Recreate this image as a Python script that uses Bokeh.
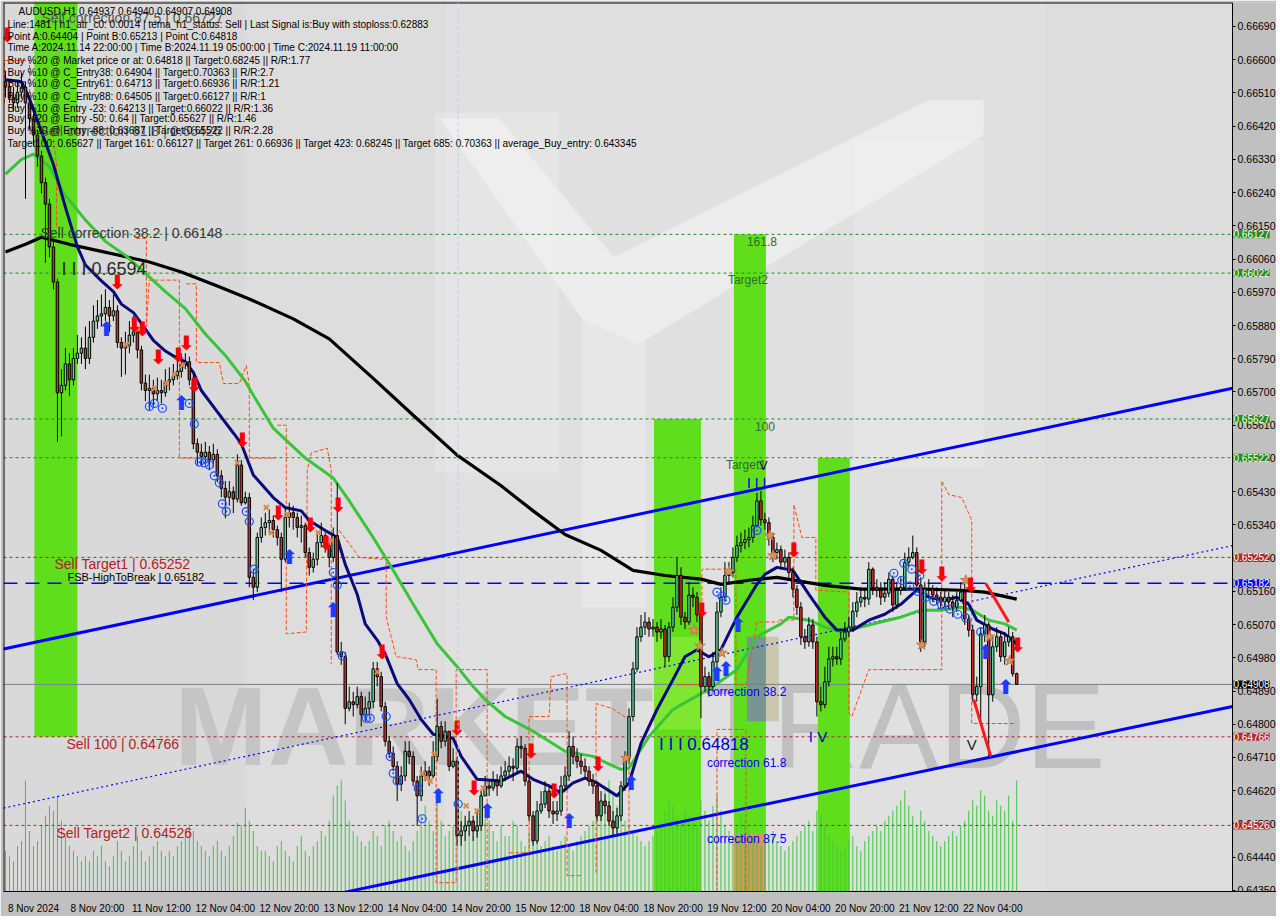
import numpy as np
from bokeh.plotting import figure
from bokeh.models import FixedTicker, PrintfTickFormatter, Range1d, Label, Span, LinearAxis
from bokeh.core.properties import value
from bokeh.embed import file_html
from bokeh.resources import INLINE

PT = 1e5  # prices are stored in points (1e-5)

# ---------------- candle data (AUDUSD H1, 8 Nov 04:00 .. 22 Nov 18:00) ----------------
first_open = 66541
close_pts = [66526,66497,66483,66512,66526,66483,66440,66396,66339,66267,
 66209,66093,65998,65698,65718,65776,65733,65791,65805,65819,
 65791,65848,65892,65906,65912,65929,65906,65920,65834,65819,
 65825,65854,65863,65814,65724,65704,65710,65695,65704,65698,
 65727,65733,65744,65756,65776,65782,65733,65560,65537,65525,
 65537,65516,65531,65473,65439,65415,65430,65410,65502,65400,
 65414,65198,65171,65306,65333,65346,65352,65327,65306,65247,
 65360,65373,65360,65333,65338,65265,65225,65247,65292,65311,
 65284,65252,65311,64996,64983,64843,64861,64853,64875,64826,
 64843,64861,64950,64929,64848,64754,64721,64686,64638,64660,
 64727,64713,64646,64606,64660,64673,64660,64713,64794,64754,
 64781,64686,64700,64498,64511,64525,64538,64511,64525,64606,
 64633,64627,64646,64633,64660,64673,64686,64681,64740,64735,
 64646,64552,64484,64565,64584,64619,64565,64557,64565,64633,
 64660,64740,64713,64700,64686,64673,64646,64633,64552,64592,
 64579,64538,64519,64552,64633,64708,64821,64950,65037,65063,
 65077,65058,65063,65050,65058,64983,65063,65117,65203,65090,
 65077,65150,65144,65096,64902,64929,64902,64969,65104,65144,
 65203,65211,65252,65284,65292,65300,65306,65338,65405,65354,
 65346,65306,65265,65273,65239,65252,65211,65166,65117,65037,
 65023,65069,65023,64861,64853,64915,64977,64983,64977,65031,
 65050,65063,65106,65131,65144,65139,65220,65171,65163,65144,
 65155,65193,65123,65163,65171,65239,65252,65265,65177,65023,
 65166,65166,65150,65144,65131,65144,65131,65117,65136,65158,
 65085,65055,64880,64902,65045,65069,64880,65010,65037,64983,
 65023,65037,64937,64908]
high_pts = [66570,66546,66526,66541,66564,66541,66497,66454,66411,66353,
 66281,66223,66108,66007,65762,65819,65805,65819,65854,65848,
 65877,65892,65935,65949,65964,65978,65949,65964,65935,65848,
 65863,65892,65906,65877,65825,65747,65747,65733,65739,65733,
 65762,65767,65776,65791,65805,65805,65796,65747,65574,65560,
 65565,65554,65560,65545,65488,65459,65459,65444,65531,65516,
 65430,65427,65220,65319,65360,65373,65381,65365,65338,65319,
 65387,65400,65392,65373,65365,65346,65279,65265,65319,65346,
 65319,65292,65333,65454,65023,64996,64902,64888,64902,64888,
 64875,64888,64969,64969,64942,64861,64767,64740,64700,64686,
 64754,64754,64727,64660,64686,64700,64686,64754,64870,64808,
 64808,64781,64735,64713,64538,64552,64565,64552,64565,64619,
 64660,64646,64673,64665,64686,64700,64713,64708,64762,64767,
 64746,64660,64565,64592,64619,64646,64633,64592,64592,64660,
 64686,64781,64767,64735,64719,64708,64686,64665,64646,64619,
 64611,64592,64565,64573,64646,64727,64843,64969,65063,65096,
 65104,65090,65085,65077,65085,65069,65077,65144,65252,65225,
 65104,65185,65171,65158,65112,64956,64942,64996,65131,65171,
 65239,65239,65279,65311,65319,65327,65333,65365,65427,65432,
 65373,65360,65319,65292,65284,65273,65265,65225,65177,65131,
 65058,65090,65085,65037,64902,64956,65010,65010,65010,65050,
 65077,65090,65131,65158,65171,65166,65239,65225,65193,65185,
 65185,65211,65203,65185,65198,65265,65279,65311,65279,65198,
 65185,65193,65177,65171,65158,65166,65158,65150,65158,65185,
 65185,65096,65069,64929,65063,65096,65077,65037,65063,65050,
 65050,65063,65050,64940]
low_pts = [66497,66483,66460,66469,66497,66223,66411,66368,66310,66238,
 66050,66065,65978,65565,65580,65704,65690,65718,65776,65776,
 65762,65776,65834,65871,65877,65892,65863,65892,65819,65741,
 65747,65805,65834,65791,65704,65675,65652,65661,65675,65669,
 65687,65704,65718,65733,65739,65762,65718,65545,65502,65502,
 65508,65488,65496,65456,65415,65358,65392,65372,65401,65392,
 65395,65171,65136,65158,65292,65311,65319,65306,65284,65158,
 65239,65333,65327,65306,65292,65252,65203,65211,65230,65279,
 65265,65225,65239,64988,64961,64800,64835,64821,64843,64794,
 64808,64826,64843,64902,64835,64740,64708,64673,64592,64619,
 64646,64692,64633,64525,64592,64646,64633,64654,64700,64735,
 64740,64673,64681,64471,64471,64484,64498,64484,64493,64511,
 64606,64606,64619,64606,64627,64646,64660,64646,64665,64708,
 64633,64538,64471,64476,64557,64573,64546,64530,64538,64552,
 64619,64646,64692,64681,64665,64654,64633,64611,64538,64538,
 64557,64525,64498,64503,64538,64619,64692,64808,64942,65023,
 65042,65037,65037,65023,65031,64956,64969,65050,65104,65069,
 65058,65069,65117,65077,64816,64888,64875,64888,64956,65090,
 65131,65185,65198,65239,65265,65274,65279,65292,65333,65338,
 65327,65284,65239,65247,65220,65225,65193,65144,65096,65015,
 65004,65010,65004,64821,64835,64843,64902,64956,64961,64961,
 65023,65037,65050,65090,65117,65117,65123,65150,65144,65123,
 65131,65144,65104,65112,65150,65166,65225,65247,65166,64996,
 65010,65144,65131,65123,65112,65117,65112,65090,65104,65131,
 65069,65037,64861,64861,64813,65023,64713,64861,64996,64969,
 64961,65010,64929,64907]
volume_ticks = [400,350,300,450,500,1100,
 600,450,500,650,750,850,800,
 950,700,550,450,400,350,300,350,
 300,400,350,450,300,250,350,500,400,300,350,450,550,400,300,350,450,500,400,350,
 400,350,450,500,550,660,600,500,450,400,350,450,500,400,350,450,550,680,
 650,830,700,600,450,400,
 400,350,300,450,500,400,350,300,450,550,400,350,450,500,600,550,
 700,950,1050,1100,900,700,600,550,500,450,
 500,600,550,450,650,700,600,500,550,450,400,500,600,750,850,700,600,900,700,550,
 600,650,950,800,700,600,550,750,1000,850,700,600,500,650,550,
 550,700,650,500,450,600,550,500,450,500,550,450,400,500,550,450,400,500,550,600,
 650,700,800,900,1000,1100,950,850,750,700,650,600,550,500,450,
 500,550,600,700,800,900,850,750,700,800,750,700,650,900,800,700,850,950,800,650,
 600,550,650,750,700,600,550,500,450,500,550,600,500,450,400,450,500,550,600,650,
 700,600,800,750,650,550,500,450,400,450,500,550,450,400,500,550,600,650,600,700,
 750,800,850,900,1000,850,750,650,800,700,600,550,500,450,500,550,600,550,650,700,
 800,900,850,1000,950,800,750,900,850,800,950,700,1100]

x_tick_bars = [0,16,32,48,64,80,96,112,128,144,160,176,192,208,224,240]
x_tick_labels = ["8 Nov 2024","8 Nov 20:00","11 Nov 12:00","12 Nov 04:00","12 Nov 20:00",
 "13 Nov 12:00","14 Nov 04:00","14 Nov 20:00","15 Nov 12:00","18 Nov 04:00","18 Nov 20:00",
 "19 Nov 12:00","20 Nov 04:00","20 Nov 20:00","21 Nov 12:00","22 Nov 04:00"]
price_ticks = [0.66690,0.66600,0.66510,0.66420,0.66330,0.66240,0.66150,0.66060,0.65970,
 0.65880,0.65790,0.65700,0.65610,0.65520,0.65430,0.65340,0.65250,0.65160,0.65070,0.64980,
 0.64890,0.64800,0.64710,0.64620,0.64530,0.64440,0.64350]

# ---------------- indicator lines ----------------
fast_ma_bar = [0,4,6,9,12,15,18,20,24,27,29,32,34,37,40,43,45,47,49,53,57,59,62,67,70,74,76,80,83,85,
 88,90,93,95,98,101,104,107,112,114,118,124,129,132,136,139,142,145,148,153,156,159,163,167,170,173,
 176,179,183,188,190,193,197,201,205,208,212,216,220,224,228,231,235,238,241,243,247,250,253]
fast_ma_val = [66546,66541,66494,66405,66316,66200,66093,66044,66001,65972,65938,65915,65886,65840,
 65811,65791,65782,65753,65704,65646,65589,65560,65475,65414,65387,65378,65352,65325,65306,65233,
 65152,65072,65028,64991,64910,64867,64813,64773,64762,64713,64651,64646,64673,64651,64633,64614,
 64641,64654,64641,64606,64641,64748,64840,64921,64983,65002,64983,65002,65090,65179,65206,65225,
 65217,65152,65090,65055,65055,65082,65098,65125,65163,65144,65136,65144,65125,65082,65058,65045,65018]
mid_ma_bar = [0,4,7,11,15,20,25,30,35,40,45,50,55,60,62,67,75,82,86,92,97,102,108,113,117,120,125,
 132,140,147,151,154,156,161,167,174,178,183,188,194,196,201,205,209,214,219,224,229,234,239,242,
 246,250,253]
mid_ma_val = [66290,66330,66344,66310,66232,66166,66108,66070,66021,65972,65926,65857,65799,65729,
 65691,65602,65521,65467,65405,65306,65217,65125,65018,64956,64902,64867,64821,64781,64727,64713,
 64692,64678,64681,64767,64840,64883,64910,64948,65037,65072,65090,65082,65063,65050,65063,65077,
 65090,65109,65109,65117,65109,65082,65072,65055]
slow_ma_bar = [0,5,9,16,24,36,44,53,61,72,81,92,102,113,124,132,140,149,157,165,174,179,186,193,205,
 214,222,230,239,245,253]
slow_ma_val = [66079,66100,66119,66100,66081,66052,66025,65987,65952,65898,65844,65737,65637,65529,
 65446,65378,65314,65271,65217,65203,65193,65179,65190,65198,65176,65166,65166,65166,65163,65158,65139]

# trend channel
chart_end = 307
chan_bar = [-0.5, 307]
chan_upper = [65004, 65710]
chan_mid = [64573, 65284]
chan_low_bar = [83.5, 307]
chan_lower = [64342, 64848]

# stepped trailing lines (orange dashed)
step_bars = [
 [-0.25,-0.25,6,6,11.5,12.75,12.75,14],
 [32.75,35.25,35.25,36,42.75,43.5,43.5,48.5],
 [45.25,47.75,47.75,53.5,54.5,58.5,60.25,61,61,67.75],
 [68,70.25,70.25,75.25,75.5,76.5,80.5,81.5,81.5],
 [83.5,88.5,94.25,95.25,95.25,97.75,102.75,103.25,107.75,107.75,112.75,112.75,120.5,120.5],
 [126,131,131,136,136.5,140.25,140.5,140.5,144.25],
 [147.75,147.75,151.75,155.5,156,156],
 [168,174.25,174.25,182.75,182.75,185.25,188,193.5],
 [178,178,185.25,185.25],
 [193.5,197.25,197.25,199.25,202.75,202.75,211,211,211.75,216,234.25,234.25,236,239.25,241.75,241.75,252.75]]
step_vals = [
 [66483,66598,66598,66432,66432,66318,66146,66146],
 [66116,66116,65877,66003,66003,66003,65521,65521],
 [65993,65993,65780,65780,65723,65723,65772,65718,65521,65521],
 [65610,65610,65045,65050,65489,65535,65548,65486,64964],
 [65325,65252,65247,65252,65090,64983,64975,64948,64948,64371,64371,64948,64948,64342],
 [64452,64452,64821,64821,64929,64937,64937,64390,64390],
 [64398,64856,64843,64816,64816,64498],
 [64907,64907,65220,65220,64907,64907,65077,65077],
 [64345,64786,64786,64345],
 [65082,65082,65395,65306,65306,65163,65158,64829,64821,64948,64948,65459,65422,65414,65352,64802,64802]]

# short red wave lines
wave_bars = [[245.25, 251], [242.25, 246.5]]
wave_vals = [[65182, 65077], [64867, 64713]]

# signals
sell_arrow_bar = [0.5,28,32.25,34.25,38.25,43.25,45.25,47.25,59.25,68.25,76.25,80.25,83.25,94.25,113,
 117.25,131.5,137.25,148.25,174.25,197.25,229.25,234.25,241.5,253.25]
sell_arrow_val = [66666,65998,65882,65871,65796,65801,65834,65718,65570,65373,65341,65292,65395,64996,
 64789,64627,64727,64619,64692,65109,65271,65225,65206,65177,65015]
buy_arrow_bar = [25.25,44,71,82,108.25,120.5,141,156.5,178,180.25,183.25,245.25,250.25]
buy_arrow_val = [65871,65669,65252,65109,64606,64565,64538,64641,64937,64950,65069,64996,64902]
ring_bar = [36,37.25,39.25,46,47.25,48.5,49.75,51,52.25,53.5,54.25,55.25,60.25,61,62.25,82,83,84.25,
 90.25,91.25,95.25,96.25,97,98,103.25,104.25,113.25,178,179.25,180.25,188,222.25,224.25,226.25,
 228.25,230.25,232.25,234.25,236.25,238.25,240.25,224.75,226.75,228.75,244]
ring_val = [65661,65669,65656,65669,65613,65510,65508,65502,65473,65454,65397,65376,65376,65349,65220,
 65211,65177,64985,64816,64816,64821,64713,64667,64646,64627,64544,64584,65158,65147,65136,65325,
 65209,65190,65174,65160,65144,65133,65123,65112,65098,65088,65236,65220,65203,65050]
cross_bar = [30.25,33,37.25,40.25,42.25,44.25,58,65.25,66.5,70.5,78.25,81.5,93,104.25,105.25,106.25,
 107.25,115.25,118,119.5]
cross_val = [65828,65869,65710,65723,65747,65772,65508,65387,65319,65368,65319,65298,64942,64667,64654,
 64646,64719,64579,64565,64627]
star_bar = [155.25,172.25,173.75,179.25,181,191.25,192,229.25,240.25,246.25,251.25]
star_val = [64708,65055,65012,64993,65214,65311,65257,65015,65190,65037,64972]

# zones
zone_left = [7.25,162.25,182.25,203.25]
zone_right = [18,174,190.25,211.25]
zone_top = [66760,65627,66127,65522]
zone_bottom = [64766,64340,64340,64340]

# horizontal levels
level_green = [66127,66022,65627,65522]
level_red = [65252,64766,64526]
level_fsb = 65182
last_price = 64908
time_a_bar = 113.25

box_prices = [66127,66022,65627,65522,65252,65182,64908,64766,64526]
box_colors = ["#2b8a22","#2b8a22","#2b8a22","#2b8a22","#b02c2c","#0000ff","#000000","#b02c2c","#b02c2c"]

info_lines = [
 "Line:1481 | h1_atr_c0: 0.0014 | tema_h1_status: Sell | Last Signal is:Buy with stoploss:0.62883",
 "Point A:0.64404 | Point B:0.65213 | Point C:0.64818",
 "Time A:2024.11.14 22:00:00 | Time B:2024.11.19 05:00:00 | Time C:2024.11.19 11:00:00",
 "Buy %20 @ Market price or at: 0.64818 || Target:0.68245 || R/R:1.77",
 "Buy %10 @ C_Entry38: 0.64904 || Target:0.70363 || R/R:2.7",
 "Buy %10 @ C_Entry61: 0.64713 || Target:0.66936 || R/R:1.21",
 "Buy %10 @ C_Entry88: 0.64505 || Target:0.66127 || R/R:1",
 "Buy %10 @ Entry -23: 0.64213 || Target:0.66022 || R/R:1.36",
 "Buy %20 @ Entry -50: 0.64 || Target:0.65627 || R/R:1.46",
 "Buy %20 @ Entry -88: 0.63687 || Target:0.65522 || R/R:2.28",
 "Target100: 0.65627 || Target 161: 0.66127 || Target 261: 0.66936 || Target 423: 0.68245 || Target 685: 0.70363 || average_Buy_entry: 0.643345"]
info_line_price = [66695,66663,66633,66598,66566,66536,66501,66469,66440,66407,66372]

# ---------------- build ----------------
n = len(close_pts)
bars = np.arange(n)
c = np.array(close_pts) / PT
o = np.concatenate([[first_open / PT], c[:-1]])
h = np.maximum(np.array(high_pts) / PT, np.maximum(o, c))
l = np.minimum(np.array(low_pts) / PT, np.minimum(o, c))
up = c >= o

def P(v):
    return np.array(v) / PT

Y0, Y1 = 0.64347, 0.66755
p = figure(width=1276, height=916, x_range=Range1d(-0.5, 318.0), y_range=Range1d(Y0, Y1),
           output_backend="svg", toolbar_location=None, y_axis_location=None,
           background_fill_color="#d9d9d9", border_fill_color="#c0c0c0",
           min_border_left=3, min_border_top=2, min_border_right=0, min_border_bottom=0)
p.extra_y_ranges = {"vol": Range1d(0, 8800)}
p.xgrid.visible = False
p.ygrid.visible = False
p.outline_line_color = None

FONT = "Liberation Sans"

# price axis drawn at the right edge of the chart area
yax = LinearAxis(fixed_location=chart_end, ticker=FixedTicker(ticks=price_ticks),
                 formatter=PrintfTickFormatter(format="%.5f"))
yax.major_label_text_font = FONT
yax.major_label_text_font_size = "10.5px"
yax.major_label_text_color = "black"
yax.minor_tick_line_color = None
yax.major_tick_in = 0
yax.major_tick_out = 3
yax.major_label_standoff = 2
yax.axis_line_color = "black"
p.add_layout(yax, "right")

# time axis: MT4 prints each date label starting at its bar, so the centred
# Bokeh labels are placed half a label width (about 7 bars) to the right
label_shift = 7
shifted = [b + label_shift for b in x_tick_bars]
p.xaxis.ticker = FixedTicker(ticks=shifted)
p.xaxis.major_label_overrides = {b: t for b, t in zip(shifted, x_tick_labels)}
p.xaxis.major_label_text_font = FONT
p.xaxis.major_label_text_font_size = "10px"
p.xaxis.major_label_text_color = "black"
p.xaxis.minor_tick_line_color = None
p.xaxis.major_tick_line_color = None
p.xaxis.major_label_standoff = 5
p.xaxis.axis_line_color = "black"

# background lightening and watermark logo
p.quad(left=[60], right=[chart_end], top=[Y1], bottom=[Y0], fill_color="white", fill_alpha=0.12, line_color=None)
p.quad(left=[110], right=[260], top=[Y1], bottom=[Y0], fill_color="white", fill_alpha=0.10, line_color=None)
p.quad(left=[107.5, 212.25], right=[138.5, 244.75], top=[0.66458, 0.66383], bottom=[0.65481, 0.65494],
       fill_color="#ececec", fill_alpha=0.45, line_color=None)
p.patch(x=[108.5,123.5,152.25,231,244.75,244.75,158.5,144.25],
        y=list(P([66442,66442,66065,66491,66491,66396,65831,65898])),
        fill_color="#f4f4f4", fill_alpha=0.6, line_color=None)
p.quad(left=[144.25], right=[160.25], top=[0.65898], bottom=[0.65117], fill_color="#eeeeee", fill_alpha=0.5, line_color=None)
p.text(x=[42.25], y=[0.64794], text=["MARKET"], text_font=value(FONT), text_font_style="bold",
       text_font_size="112px", text_color="#c2c2c2", text_baseline="alphabetic", text_alpha=0.9)
p.text(x=[173.5], y=[0.64794], text=["TRADE"], text_font=value(FONT),
       text_font_size="120px", text_color="#bdbdbd", text_baseline="alphabetic", text_alpha=0.9)

# zones
p.quad(left=zone_left, right=zone_right, top=P(zone_top), bottom=P(zone_bottom), fill_color="#5fdf1c", line_color=None)
p.quad(left=[162.25], right=[174], top=[0.65037], bottom=[0.64786], fill_color="#7fe632", line_color=None)
p.quad(left=[182.25], right=[190.25], top=[0.64503], bottom=[0.6434], fill_color="#d9955c", line_color=None)
p.quad(left=[185.5, 190.25], right=[190.25, 193.5], top=[0.65037, 0.65037], bottom=[0.64808, 0.64808],
       fill_color=["#7b8d9f", "#c9c4a8"], line_color=None, fill_alpha=0.9)

# volume
p.vbar(x=bars, width=0.25, top=volume_ticks, bottom=0, y_range_name="vol", fill_color="#3cc83c", line_color=None)

# levels
def hline(v, color, dash, width=1):
    p.segment(x0=[-0.5], y0=[v / PT], x1=[chart_end], y1=[v / PT], line_color=color, line_dash=dash, line_width=width)

for v in level_green:
    hline(v, "#228b22", "3 3")
for v in level_red:
    hline(v, "#a52a2a", "3 3")
hline(level_fsb, "#0000ff", "14 8", 1.5)
hline(last_price, "#708090", "solid", 1)
p.add_layout(Span(location=time_a_bar, dimension="height", line_color="#a6d6e6", line_dash="3 3", line_width=1))

# channel
p.line(chan_bar, P(chan_upper), line_color="#0000ff", line_width=3)
p.line(chan_bar, P(chan_mid), line_color="#0000ff", line_width=1.2, line_dash="2 3")
p.line(chan_low_bar, P(chan_lower), line_color="#0000ff", line_width=3)

# orange stepped lines
p.multi_line(xs=step_bars, ys=[list(P(v)) for v in step_vals], line_color="#ff4a10", line_width=1, line_dash="4 2")

# moving averages
p.line(slow_ma_bar, P(slow_ma_val), line_color="black", line_width=3.2)
p.line(mid_ma_bar, P(mid_ma_val), line_color="#3ac43a", line_width=3)
p.line(fast_ma_bar, P(fast_ma_val), line_color="#0a0a7a", line_width=3)

# candles
p.segment(x0=bars, y0=h, x1=bars, y1=l, line_color="black", line_width=1)
p.vbar(x=bars[up], width=0.62, top=c[up], bottom=o[up], fill_color="#5fd39a", line_color="black", line_width=1)
p.vbar(x=bars[~up], width=0.62, top=o[~up], bottom=c[~up], fill_color="#cc2f2f", line_color="black", line_width=1)

# red wave lines
p.multi_line(xs=wave_bars, ys=[list(P(v)) for v in wave_vals], line_color="#ff1a1a", line_width=3)

# markers
p.scatter(ring_bar, P(ring_val), marker="circle_dot", size=8, line_color="#1a50ff", fill_color=None, line_width=1.2)
p.scatter(cross_bar, P(cross_val), marker="x", size=7, line_color="#d6894e", line_width=2)
p.scatter(star_bar, P(star_val), marker="star", size=11, fill_color="#d9955c", line_color="#c07a40")
p.text(sell_arrow_bar, P(sell_arrow_val), text=["\u2b07"] * len(sell_arrow_bar), text_font=value("DejaVu Sans"),
       text_font_size="20px", text_color="#ff0000", text_align="center", text_baseline="middle", text_font_style="bold")
p.text(buy_arrow_bar, P(buy_arrow_val), text=["\u2b06"] * len(buy_arrow_bar), text_font=value("DejaVu Sans"),
       text_font_size="20px", text_color="#1d3cff", text_align="center", text_baseline="middle", text_font_style="bold")

# chart texts
def txt(x, y, s, size, color, style="normal"):
    p.text([x], [y / PT], text=[s], text_font=value(FONT), text_font_size=size, text_color=color,
           text_baseline="middle", text_align="left", text_font_style=style)

txt(9, 66712, "Sell correction 87.5 | 0.66727", "14px", "#555555")
txt(8.5, 66407, "Sell correction 61.8 | 0.66426", "14px", "#555555")
txt(8.75, 66132, "Sell correction 38.2 | 0.66148", "14px", "#3a3a3a")
txt(14, 66033, "I I I 0.6594", "18px", "#2a2a2a")
txt(12.25, 65233, "Sell Target1 | 0.65252", "14px", "#b22222")
txt(15.5, 65198, "FSB-HighToBreak | 0.65182", "11px", "#000000")
txt(15.25, 64746, "Sell 100 | 0.64766", "14px", "#b22222")
txt(12.75, 64506, "Sell Target2 | 0.64526", "14px", "#b22222")
txt(185.5, 66108, "161.8", "12px", "#2f6a2f")
txt(180.75, 66003, "Target2", "12px", "#2f6a2f")
txt(187.5, 65607, "100", "12px", "#2f6a2f")
txt(180.25, 65502, "Target1", "12px", "#2f6a2f")
txt(188.5, 65502, "V", "13px", "#202020")
txt(185.5, 65454, "I I I", "14px", "#0000cd")
txt(175.5, 64888, "correction 38.2", "12px", "#0000ff")
txt(175.5, 64695, "correction 61.8", "12px", "#0000ff")
txt(175.5, 64490, "correction 87.5", "12px", "#0000ff")
txt(163.5, 64746, "I I I 0.64818", "17px", "#0000cd")
txt(201, 64767, "I V", "15px", "#0000cd")
txt(240.5, 64746, "V", "15px", "#202020")

p.text([3.25], [0.66730], text=["AUDUSD,H1  0.64937 0.64940 0.64907 0.64908"], text_font=value(FONT),
       text_font_size="10px", text_color="black", text_baseline="middle", text_align="left")
p.text([0.5] * len(info_lines), P(info_line_price), text=info_lines, text_font=value(FONT),
       text_font_size="10px", text_color="black", text_baseline="middle", text_align="left")

# gray price-scale strip right of the chart area, and frame lines
p.quad(left=[chart_end], right=[330], top=[0.68], bottom=[0.63], fill_color="#c0c0c0", line_color=None)
p.segment(x0=[-0.5, -0.5], y0=[Y0, Y1], x1=[-0.5, chart_end], y1=[Y1, Y1], line_color="black", line_width=2)

# price boxes on the axis
for v, col in zip(box_prices, box_colors):
    p.add_layout(Label(x=chart_end, y=v / PT, x_offset=1, text="%.5f" % (v / PT), text_color="white",
                       text_font=FONT, text_font_size="10px", text_baseline="middle", text_align="left",
                       background_fill_color=col))

open("out.html", "w").write(file_html(p, INLINE))
